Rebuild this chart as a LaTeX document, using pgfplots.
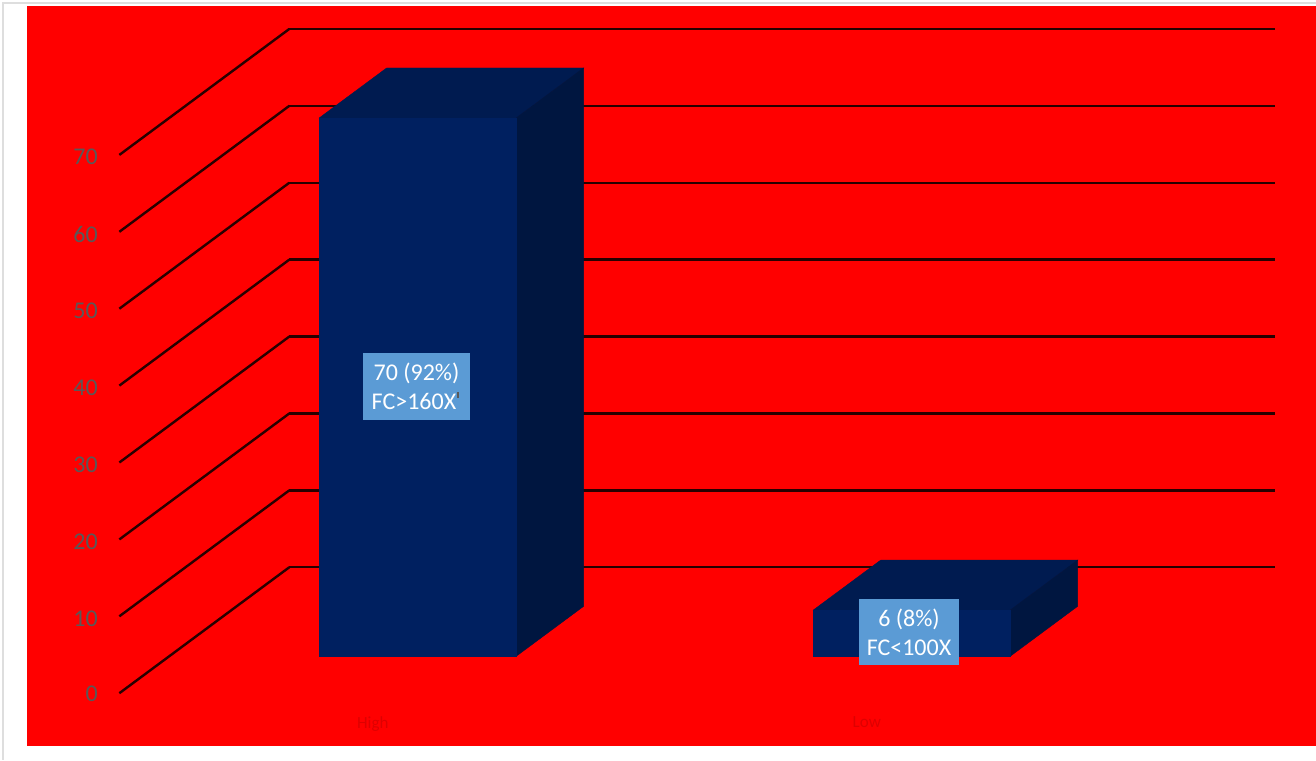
\documentclass[border=0pt]{standalone}
\usepackage{pgfplots}
\pgfplotsset{compat=1.18}
\usepackage{fontspec}
\setmainfont{Carlito}
\definecolor{wallred}{RGB}{255,0,0}
\definecolor{barfront}{RGB}{0,32,96}
\definecolor{bartop}{RGB}{0,27,80}
\definecolor{barside}{RGB}{0,22,64}
\definecolor{labelbox}{RGB}{91,155,213}
\definecolor{ticktext}{RGB}{89,89,89}
\definecolor{cattext}{RGB}{222,0,0}
\definecolor{gridcol}{RGB}{40,0,0}
\begin{document}
\begin{tikzpicture}[x=1pt,y=1pt]
\useasboundingbox (0,0) rectangle (1316,760);
% page, frame and chart area
\fill[white] (0,0) rectangle (1316,760);
\fill[black!13] (2,0) rectangle (4,758);
\fill[black!13] (2,756) rectangle (1316,758);
\fill[wallred] (27,14) rectangle (1316,754);
\begin{axis}[
  at={(29.25,53)}, anchor=origin,
  x={(1pt,0pt)}, y={(170pt,126pt)}, z={(0pt,7.69pt)},
  xmin=119, xmax=1105, ymin=0, ymax=1, zmin=0, zmax=70,
  clip=false,
  axis line style={draw=none},
  major tick length=0pt,
  tick style={draw=none},
  xtick={366,859},
  xticklabels={High,Low},
  ytick=\empty,
  ztick={0,10,...,70},
  zmajorgrids=true,
  major grid style={draw=gridcol, line width=2.4pt},
  /pgf/number format/assume math mode=true,
  tick label style={font=\fontsize{24}{24}\selectfont},
  zticklabel style={text=ticktext, xshift=-18pt, yshift=3pt},
  xticklabel style={text=cattext, font=\fontsize{17}{17}\selectfont, xshift=12pt, yshift=-20pt},
]
% High: top, side and front faces, the front drawn last over the joins
\addplot3[draw=bartop, line width=0.4pt, fill=bartop, mark=none] coordinates {(269,0.294,70) (466,0.294,70) (466,0.69,70) (269,0.69,70)} -- cycle;
\addplot3[draw=barside, line width=0.4pt, fill=barside, mark=none] coordinates {(466,0.294,0) (466,0.69,0) (466,0.69,70) (466,0.294,70)} -- cycle;
\addplot3[draw=barfront, line width=0.4pt, fill=barfront, mark=none] coordinates {(269,0.294,0) (466,0.294,0) (466,0.294,70) (269,0.294,70)} -- cycle;
% Low: top, side and front faces
\addplot3[draw=bartop, line width=0.4pt, fill=bartop, mark=none] coordinates {(763,0.294,6) (960,0.294,6) (960,0.69,6) (763,0.69,6)} -- cycle;
\addplot3[draw=barside, line width=0.4pt, fill=barside, mark=none] coordinates {(960,0.294,0) (960,0.69,0) (960,0.69,6) (960,0.294,6)} -- cycle;
\addplot3[draw=barfront, line width=0.4pt, fill=barfront, mark=none] coordinates {(763,0.294,0) (960,0.294,0) (960,0.294,6) (763,0.294,6)} -- cycle;
\end{axis}
% data labels
\node[fill=labelbox, text=white, align=center, minimum width=107pt, minimum height=67pt, inner sep=0pt,
      font=\fontsize{24}{29}\selectfont] at (416.5,373.5) {70 (92\%)\\FC>160X\kern5pt};
\node[fill=labelbox, text=white, align=center, minimum width=100pt, minimum height=66pt, inner sep=0pt,
      font=\fontsize{24}{29}\selectfont] at (909,128) {6 (8\%)\\FC<100X};
\fill[ticktext] (457,362) rectangle (459,368);
\end{tikzpicture}
\end{document}
